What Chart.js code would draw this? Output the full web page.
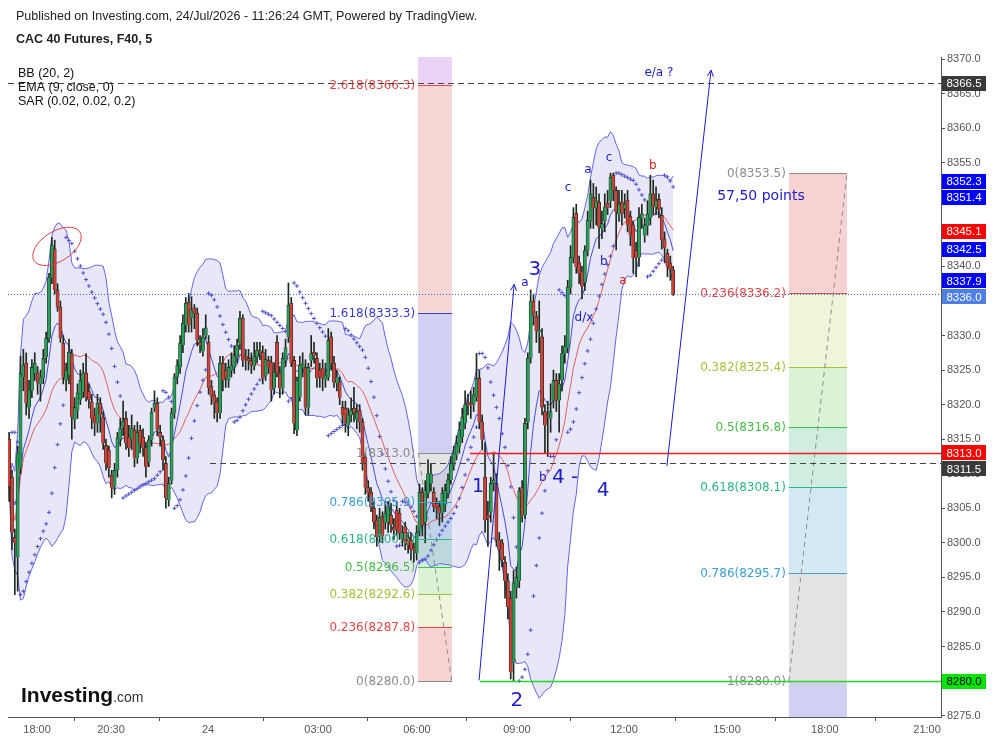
<!DOCTYPE html>
<html>
<head>
<meta charset="utf-8">
<title>CAC 40 Futures, F40, 5</title>
<script src="https://cdn.jsdelivr.net/npm/chart.js@4.4.1/dist/chart.umd.min.js"></script>
<style>
html, body { margin: 0; padding: 0; background: #ffffff; }
#myChart { display: block; }
</style>
</head>
<body>
<canvas id="myChart" width="993" height="741"></canvas>
<script>
// 5 min bars
let opens = [8315.0,8309.5,8300.8,8297.9,8311.0,8324.0,8326.0,8319.6,8322.0,8324.5,
8324.6,8323.0,8323.8,8326.9,8329.6,8338.4,8342.5,8336.6,8334.1,8328.9,
8323.5,8324.3,8327.4,8317.8,8319.2,8320.7,8321.8,8324.6,8321.9,8320.4,
8318.5,8317.3,8320.2,8318.2,8314.1,8313.4,8309.8,8308.1,8310.5,8315.0,
8316.8,8318.0,8315.3,8314.9,8316.3,8312.3,8316.3,8315.3,8313.8,8311.7,
8314.9,8319.6,8320.2,8316.0,8314.9,8311.5,8306.2,8309.0,8318.8,8324.0,
8325.4,8328.6,8331.5,8334.8,8332.5,8334.0,8333.2,8329.0,8327.7,8330.0,
8329.0,8322.6,8321.4,8320.4,8318.8,8326.0,8325.0,8323.5,8325.0,8325.4,
8326.9,8328.9,8332.5,8327.0,8326.7,8326.4,8325.6,8326.9,8327.8,8327.6,
8324.1,8326.4,8326.1,8322.4,8329.0,8324.6,8322.4,8326.4,8329.8,8334.7,
8326.4,8316.3,8321.1,8325.4,8325.4,8319.6,8326.4,8327.6,8326.7,8325.0,
8325.3,8323.6,8324.0,8329.8,8326.0,8323.1,8323.3,8319.6,8319.5,8317.0,
8318.5,8319.5,8317.8,8319.2,8317.5,8312.4,8308.0,8307.3,8305.0,8303.3,
8301.0,8303.8,8302.9,8303.0,8304.0,8302.3,8304.7,8304.3,8300.5,8302.3,
8300.8,8300.4,8299.3,8298.5,8301.8,8307.3,8303.0,8307.2,8308.6,8307.3,
8305.7,8305.2,8304.3,8305.5,8307.2,8309.1,8311.2,8312.7,8313.9,8315.3,
8317.3,8320.3,8320.2,8320.0,8321.1,8323.8,8317.5,8309.5,8304.0,8304.4,
8308.6,8308.6,8300.4,8300.0,8297.2,8294.5,8292.0,8282.6,8293.5,8294.5,
8308.0,8304.0,8317.5,8326.7,8335.0,8332.8,8330.5,8329.8,8319.0,8318.5,
8318.0,8320.6,8323.5,8320.6,8323.5,8327.4,8328.2,8337.0,8341.3,8347.7,
8340.5,8339.3,8337.7,8342.3,8346.5,8350.0,8348.5,8349.3,8345.5,8346.5,
8349.2,8349.5,8353.2,8351.0,8347.5,8349.3,8348.4,8349.6,8347.2,8346.0,
8342.3,8341.3,8347.0,8344.5,8345.8,8347.0,8350.5,8348.6,8349.7,8347.4,
8344.0,8341.9,8340.5,8339.5]
let highs = [8316.0,8310.5,8302.0,8314.0,8327.0,8328.0,8327.5,8323.5,8326.5,8327.5,
8325.5,8325.0,8328.0,8330.5,8339.0,8344.2,8343.8,8337.5,8335.0,8330.0,
8326.0,8329.5,8328.0,8321.0,8323.0,8325.0,8326.0,8327.4,8323.0,8321.5,
8319.5,8321.5,8321.0,8319.0,8315.0,8314.0,8310.5,8311.5,8316.0,8318.0,
8320.5,8319.0,8317.0,8318.5,8317.0,8317.5,8317.0,8316.5,8314.5,8315.5,
8319.5,8322.0,8321.0,8317.0,8315.5,8312.5,8309.5,8319.5,8324.5,8326.5,
8330.0,8333.0,8335.5,8336.1,8335.6,8334.5,8334.0,8330.0,8331.0,8333.0,
8330.0,8323.5,8322.0,8321.0,8327.0,8327.0,8326.0,8326.5,8327.5,8328.5,
8329.5,8333.5,8333.0,8328.0,8328.0,8327.5,8329.0,8329.0,8329.0,8328.5,
8328.0,8327.0,8327.0,8326.0,8330.0,8325.5,8327.5,8329.5,8337.6,8335.5,
8327.0,8324.0,8327.0,8327.5,8326.5,8326.0,8330.0,8329.0,8327.5,8326.0,
8326.5,8326.0,8331.0,8330.5,8327.0,8325.0,8324.0,8320.5,8320.5,8319.5,
8321.0,8322.5,8320.0,8320.0,8318.0,8313.0,8309.0,8308.0,8306.0,8304.0,
8305.0,8304.5,8306.0,8306.0,8305.7,8303.5,8306.0,8305.0,8302.5,8303.0,
8301.5,8301.5,8300.0,8302.5,8308.5,8308.0,8309.0,8312.0,8311.5,8308.0,
8306.5,8306.0,8308.0,8308.5,8310.0,8312.5,8314.0,8315.5,8317.5,8319.5,
8322.0,8321.5,8322.0,8322.5,8327.4,8325.0,8318.5,8314.5,8306.0,8309.5,
8313.0,8310.0,8301.5,8300.5,8298.0,8295.5,8293.0,8296.0,8296.5,8308.0,
8309.0,8318.0,8327.5,8336.6,8336.0,8333.5,8335.0,8331.0,8320.0,8320.5,
8323.0,8325.0,8324.5,8324.5,8328.5,8330.0,8338.0,8343.0,8348.5,8349.0,
8341.5,8340.0,8343.0,8348.0,8352.5,8352.0,8351.5,8350.5,8348.0,8350.5,
8351.0,8353.5,8353.5,8351.5,8351.0,8351.0,8350.5,8351.0,8348.0,8346.5,
8343.5,8348.5,8349.0,8347.0,8349.5,8353.2,8352.5,8351.5,8350.5,8348.5,
8345.0,8342.5,8341.5,8340.0]
let lows = [8306.0,8299.0,8292.5,8293.0,8310.0,8322.0,8318.5,8318.0,8321.0,8323.5,
8321.5,8320.5,8323.0,8326.0,8329.0,8337.5,8336.0,8333.5,8329.0,8323.0,
8322.0,8323.0,8315.0,8316.5,8318.0,8320.0,8321.0,8320.5,8319.5,8316.5,
8315.5,8316.0,8316.0,8313.5,8310.5,8309.5,8306.5,8307.0,8309.5,8314.0,
8315.5,8313.5,8312.5,8313.5,8311.0,8311.5,8313.0,8312.5,8309.5,8311.0,
8314.0,8319.0,8315.5,8314.0,8310.5,8305.0,8305.3,8308.5,8318.0,8323.0,
8324.5,8327.5,8330.5,8330.5,8330.5,8331.0,8328.5,8327.5,8327.0,8329.5,
8321.5,8320.0,8318.0,8317.5,8318.0,8322.0,8322.5,8322.5,8324.0,8324.5,
8326.0,8328.0,8325.5,8325.0,8325.0,8324.5,8325.0,8326.0,8326.5,8323.0,
8323.5,8324.5,8320.5,8321.5,8324.0,8321.0,8321.5,8325.5,8329.0,8325.5,
8315.8,8315.5,8320.5,8324.0,8318.5,8318.5,8325.5,8326.0,8322.5,8322.5,
8322.0,8322.5,8323.5,8325.0,8322.5,8322.0,8320.0,8317.0,8316.0,8315.5,
8317.5,8317.5,8316.5,8316.0,8310.5,8307.0,8306.0,8304.5,8302.0,8299.5,
8300.0,8300.0,8302.0,8301.5,8301.5,8300.5,8301.0,8300.5,8299.5,8299.0,
8298.5,8297.5,8297.2,8297.5,8301.0,8301.0,8300.0,8306.5,8307.5,8304.5,
8303.5,8302.5,8303.0,8304.5,8306.5,8308.5,8310.5,8312.0,8313.0,8314.5,
8316.5,8318.5,8318.0,8319.0,8320.5,8316.5,8313.5,8301.5,8299.5,8303.0,
8307.5,8299.5,8296.0,8296.5,8292.0,8289.0,8280.3,8280.0,8292.0,8293.5,
8303.0,8303.5,8316.5,8326.0,8331.5,8329.0,8327.5,8318.5,8313.0,8312.5,
8316.0,8319.5,8319.0,8316.0,8322.0,8326.0,8327.5,8336.0,8340.5,8339.0,
8337.5,8335.3,8336.5,8341.5,8345.5,8345.5,8346.0,8342.6,8344.0,8345.0,
8347.5,8348.5,8349.5,8342.4,8346.5,8346.0,8347.0,8345.0,8343.0,8339.0,
8338.5,8340.0,8345.5,8343.5,8344.5,8346.0,8347.5,8347.5,8347.0,8342.5,
8340.5,8338.5,8338.0,8335.8]
let closes = [8308.2,8301.5,8300.0,8313.0,8324.5,8325.7,8320.2,8322.1,8325.4,8326.0,
8323.1,8324.0,8326.7,8329.6,8338.4,8343.0,8336.6,8334.1,8329.6,8324.0,
8325.0,8327.6,8318.2,8319.6,8321.7,8323.5,8324.6,8321.1,8320.7,8318.0,
8317.3,8320.2,8318.5,8314.4,8311.5,8310.8,8307.9,8310.5,8315.2,8316.6,
8317.6,8314.4,8313.7,8316.6,8312.3,8316.0,8314.4,8313.7,8311.0,8314.9,
8318.9,8320.2,8316.3,8315.2,8312.0,8306.5,8308.6,8318.8,8324.0,8325.7,
8328.9,8331.8,8334.7,8331.5,8333.7,8333.2,8329.3,8328.6,8329.8,8331.1,
8322.4,8321.1,8320.2,8318.8,8326.0,8323.5,8324.0,8325.4,8325.7,8327.1,
8328.6,8332.5,8326.4,8326.6,8326.3,8325.7,8327.0,8327.9,8327.5,8323.8,
8326.5,8325.4,8322.1,8324.7,8324.6,8322.4,8326.7,8328.2,8334.4,8326.0,
8317.3,8323.5,8325.7,8325.9,8319.6,8325.4,8327.4,8327.1,8323.8,8324.0,
8323.8,8324.3,8329.3,8326.0,8323.2,8324.0,8321.0,8318.5,8317.3,8318.5,
8319.2,8318.9,8318.9,8317.5,8311.5,8308.0,8307.2,8305.2,8303.0,8300.8,
8303.7,8301.0,8304.3,8305.2,8302.6,8301.8,8302.0,8301.4,8301.5,8300.1,
8299.7,8299.0,8298.9,8301.5,8307.3,8302.6,8307.6,8310.0,8310.0,8305.2,
8305.0,8304.3,8307.2,8307.6,8309.1,8311.5,8313.0,8314.4,8316.3,8318.2,
8320.0,8320.0,8319.9,8321.4,8323.8,8317.5,8314.9,8303.3,8303.6,8308.6,
8309.1,8300.4,8299.0,8297.5,8294.5,8290.7,8281.3,8294.2,8295.0,8307.5,
8304.0,8317.3,8326.7,8335.0,8333.0,8330.6,8330.8,8319.6,8317.0,8318.2,
8319.0,8323.5,8320.6,8323.0,8327.4,8328.5,8337.0,8341.3,8347.1,8339.9,
8339.0,8337.1,8342.3,8346.7,8350.5,8348.4,8349.5,8345.7,8346.2,8348.6,
8348.5,8352.9,8351.0,8347.9,8349.0,8347.6,8349.0,8346.0,8344.5,8341.2,
8341.3,8347.1,8347.6,8346.0,8347.6,8350.5,8348.6,8349.5,8348.2,8343.8,
8342.7,8339.9,8339.5,8336.0]

// time axis (bar slots, session gaps squeeze the clock)
let tickLabels = ['18:00', '20:30', '24', '03:00', '06:00', '09:00', '12:00', '15:00', '18:00', '21:00']
let tickBars = [9.8, 35.75, 69.8, 108.4, 143.1, 178.2, 215.75, 251.9, 286.2, 322.1]

// fibonacci tools
let fibLeftRatios = [0, 0.236, 0.382, 0.5, 0.618, 0.786, 1, 1.618, 2.618]
let fibLeftPrices = [8280.0, 8287.8, 8292.6, 8296.5, 8300.5, 8305.9, 8313.0, 8333.3, 8366.3]
let fibRightRatios = [0, 0.236, 0.382, 0.5, 0.618, 0.786, 1]
let fibRightPrices = [8353.5, 8336.2, 8325.4, 8316.8, 8308.1, 8295.7, 8280.0]

// price tags on the right axis
let axisTagValues = [8366.5, 8352.3, 8351.4, 8345.1, 8342.5, 8337.9, 8336.0, 8313.0, 8311.5, 8280.0]
let axisTagColors = ['#3a3a3a', '#0000ff', '#0000ff', '#ff0000', '#0000ff', '#0000ff', '#4f7fe6', '#ff0000', '#3a3a3a', '#00e400']

let fibBand = {'0': '#f6d2d2', '0.236': '#eef5d8', '0.382': '#daf3d5', '0.5': '#cfeee0', '0.618': '#d2e8f4',
  '0.786': '#e3e3e3', '1': '#d0d0f3', '1.618': '#f6d5d5', '2.618': '#ead3f6'}
let fibLine = {'0': '#8c8c8c', '0.236': '#e04848', '0.382': '#a2c23c', '0.5': '#45bd45', '0.618': '#2db58a',
  '0.786': '#3b9fd6', '1': '#8c8c8c', '1.618': '#3a3ac8', '2.618': '#e04848'}

let fibTools = [
  {ratios: fibLeftRatios, prices: fibLeftPrices, from: 143.5, to: 155.4, beyond: 8399.3, trend: [143.6, 8313.0, 155.3, 8280.0]},
  {ratios: fibRightRatios, prices: fibRightPrices, from: 273.6, to: 294.0, beyond: 8230.0, trend: [273.6, 8280.0, 294.0, 8353.5]}
]

let hLines = [
  {p: 8366.5, from: -1, color: '#444444', dash: [6, 4]},
  {p: 8311.5, from: 70.5, color: '#444444', dash: [6, 4]},
  {p: 8313.0, from: 161.7, color: '#ee1c1c', dash: []},
  {p: 8280.0, from: 165.2, color: '#22d622', dash: []},
  {p: 8336.0, from: -1, color: '#3f5fcf', dash: [1, 2]}
]

let arrows = [[164.9, 8280.1, 177.2, 8337.4], [230.8, 8311.1, 246.3, 8368.4]]

let notes = [
  {t: 'e/a ?', x: 228.0, p: 8368.0, s: 12, c: '#1c1cc8'},
  {t: '57,50 points', x: 263.8, p: 8350.2, s: 14, c: '#1c1cc8'},
  {t: '3', x: 184.5, p: 8339.5, s: 20, c: '#1c1cc8'},
  {t: 'a', x: 181.0, p: 8337.6, s: 12, c: '#1c1cc8'},
  {t: '1', x: 164.5, p: 8308.1, s: 19, c: '#1c1cc8'},
  {t: '2', x: 178.2, p: 8277.2, s: 20, c: '#1c1cc8'},
  {t: 'b', x: 187.3, p: 8309.4, s: 12, c: '#1c1cc8'},
  {t: '4 -', x: 195.1, p: 8309.4, s: 20, c: '#1c1cc8'},
  {t: '4', x: 208.4, p: 8307.6, s: 20, c: '#1c1cc8'},
  {t: 'c', x: 196.1, p: 8351.3, s: 12, c: '#1c1cc8'},
  {t: 'a', x: 203.1, p: 8353.9, s: 12, c: '#1c1cc8'},
  {t: 'c', x: 210.5, p: 8355.7, s: 12, c: '#1c1cc8'},
  {t: 'b', x: 208.7, p: 8340.6, s: 12, c: '#1c1cc8'},
  {t: 'b', x: 225.9, p: 8354.6, s: 12, c: '#e01e1e'},
  {t: 'a', x: 215.4, p: 8337.9, s: 12, c: '#e01e1e'},
  {t: 'd/x', x: 201.7, p: 8332.5, s: 12, c: '#1c1cc8'}
]

// indicators from the bars: BB(20,2), EMA(9), SAR(0.02,0.02,0.2)
let bbUpper = [], bbLower = [], bbBasis = [], emaLine = [], sarDots = []
for (let i = 0; i < closes.length; i++) {
  let w = closes.slice(Math.max(0, i - 19), i + 1)
  let m = w.reduce((s, v) => s + v, 0) / w.length
  let sd = Math.sqrt(w.reduce((s, v) => s + (v - m) * (v - m), 0) / w.length)
  bbBasis.push({x: i, y: m})
  bbUpper.push({x: i, y: m + 2 * sd})
  bbLower.push({x: i, y: m - 2 * sd})
}
let e = closes[0]
closes.forEach((c, i) => {
  e = i ? c * 0.2 + e * 0.8 : c
  emaLine.push({x: i, y: e})
})
function parabolicSar(h, l, start, inc, max) {
  let up = false, af = start, ep = l[0], sar = h[0]
  for (let i = 1; i < h.length; i++) {
    sar = sar + af * (ep - sar)
    if (up) {
      sar = Math.min(sar, l[i - 1], l[Math.max(0, i - 2)])
      if (l[i] < sar) { up = false; sar = ep; ep = l[i]; af = start }
      else if (h[i] > ep) { ep = h[i]; af = Math.min(af + inc, max) }
    } else {
      sar = Math.max(sar, h[i - 1], h[Math.max(0, i - 2)])
      if (h[i] > sar) { up = true; sar = ep; ep = h[i]; af = start }
      else if (l[i] < ep) { ep = l[i]; af = Math.min(af + inc, max) }
    }
    sarDots.push({x: i, y: sar})
  }
}
parabolicSar(highs, lows, 0.02, 0.02, 0.2)

let wicks = closes.map((c, i) => ({x: i, y: [lows[i], highs[i]]}))
let bodies = closes.map((c, i) => ({x: i, y: [opens[i], c]}))
let bodyColors = closes.map((c, i) => c >= opens[i] ? '#26a25a' : '#d63f37')

function clipArea(c, a) {
  c.save()
  c.beginPath()
  c.rect(a.left, a.top, a.right - a.left, a.bottom - a.top)
  c.clip()
}

let drawings = {
  id: 'drawings',
  beforeDatasetsDraw(chart) {
    let c = chart.ctx, xs = chart.scales.x, ys = chart.scales.y
    clipArea(c, chart.chartArea)
    fibTools.forEach(f => {
      let x1 = xs.getPixelForValue(f.from), x2 = xs.getPixelForValue(f.to)
      f.prices.forEach((p, k) => {
        let q = k + 1 < f.prices.length ? f.prices[k + 1] : f.beyond
        let y1 = ys.getPixelForValue(p), y2 = ys.getPixelForValue(q)
        c.fillStyle = fibBand[String(f.ratios[k])]
        c.fillRect(x1, Math.min(y1, y2), x2 - x1, Math.abs(y2 - y1))
      })
    })
    c.restore()
  },
  afterDatasetsDraw(chart) {
    let c = chart.ctx, a = chart.chartArea, xs = chart.scales.x, ys = chart.scales.y
    clipArea(c, a)

    // fib levels, labels and their trend lines
    c.lineWidth = 1
    c.font = '12px "DejaVu Sans"'
    c.textAlign = 'right'
    c.textBaseline = 'middle'
    fibTools.forEach(f => {
      let x1 = xs.getPixelForValue(f.from), x2 = xs.getPixelForValue(f.to)
      f.prices.forEach((p, k) => {
        let col = fibLine[String(f.ratios[k])]
        let y = Math.round(ys.getPixelForValue(p)) + 0.5
        c.strokeStyle = col
        c.beginPath(); c.moveTo(x1, y); c.lineTo(x2, y); c.stroke()
        c.fillStyle = col
        c.fillText(f.ratios[k] + '(' + p.toFixed(1) + ')', x1 - 3, y)
      })
      c.strokeStyle = '#8c8c8c'
      c.setLineDash([5, 4])
      c.beginPath()
      c.moveTo(xs.getPixelForValue(f.trend[0]), ys.getPixelForValue(f.trend[1]))
      c.lineTo(xs.getPixelForValue(f.trend[2]), ys.getPixelForValue(f.trend[3]))
      c.stroke()
      c.setLineDash([])
    })

    // horizontal lines on top
    hLines.forEach(h => {
      let y = Math.round(ys.getPixelForValue(h.p)) + 0.5
      c.strokeStyle = h.color
      c.lineWidth = h.dash.length ? 1 : 1.3
      c.setLineDash(h.dash)
      c.beginPath()
      c.moveTo(Math.max(a.left, xs.getPixelForValue(h.from)), y)
      c.lineTo(a.right, y)
      c.stroke()
    })
    c.setLineDash([])
    c.lineWidth = 1

    // wave arrows
    c.strokeStyle = '#1c1cd0'
    arrows.forEach(r => {
      let x1 = xs.getPixelForValue(r[0]), y1 = ys.getPixelForValue(r[1])
      let x2 = xs.getPixelForValue(r[2]), y2 = ys.getPixelForValue(r[3])
      let ang = Math.atan2(y2 - y1, x2 - x1)
      c.beginPath()
      c.moveTo(x1, y1); c.lineTo(x2, y2)
      c.moveTo(x2 - 7 * Math.cos(ang - 0.45), y2 - 7 * Math.sin(ang - 0.45))
      c.lineTo(x2, y2)
      c.lineTo(x2 - 7 * Math.cos(ang + 0.45), y2 - 7 * Math.sin(ang + 0.45))
      c.stroke()
    })

    // circled top
    c.strokeStyle = '#e04040'
    c.beginPath()
    c.ellipse(xs.getPixelForValue(16.8), ys.getPixelForValue(8342.9), 27, 15, -0.56, 0, Math.PI * 2)
    c.stroke()

    c.textAlign = 'center'
    notes.forEach(n => {
      c.font = n.s + 'px "DejaVu Sans"'
      c.fillStyle = n.c
      c.fillText(n.t, xs.getPixelForValue(n.x), ys.getPixelForValue(n.p))
    })

    // study legend
    c.font = '12.5px "Liberation Sans"'
    c.fillStyle = '#111'
    c.textAlign = 'left'
    c.fillText('BB (20, 2)', 18, 74)
    c.fillText('EMA (9, close, 0)', 18, 88)
    c.fillText('SAR (0.02, 0.02, 0.2)', 18, 102)

    // logo
    c.textBaseline = 'alphabetic'
    c.font = 'bold 21px "Liberation Sans"'
    c.fillStyle = '#111'
    c.fillText('Investing', 21, 702)
    let w = c.measureText('Investing').width
    c.font = '14px "Liberation Sans"'
    c.fillStyle = '#333'
    c.fillText('.com', 21 + w, 702)
    c.restore()
  },
  afterDraw(chart) {
    let c = chart.ctx, ys = chart.scales.y
    c.save()
    c.textBaseline = 'middle'
    c.textAlign = 'left'
    c.fillStyle = '#222'
    c.font = '12.5px "Liberation Sans"'
    c.fillText('Published on Investing.com, 24/Jul/2026 - 11:26:24 GMT, Powered by TradingView.', 16, 17)
    c.font = 'bold 12.5px "Liberation Sans"'
    c.fillText('CAC 40 Futures, F40, 5', 16, 40)

    let tags = axisTagValues.map((v, i) => ({v: v, y: ys.getPixelForValue(v), bg: axisTagColors[i]}))
    tags.sort((p, q) => p.y - q.y)
    for (let i = 1; i < tags.length; i++) {
      if (tags[i].y < tags[i - 1].y + 16) tags[i].y = tags[i - 1].y + 16
    }
    c.font = '11.5px "Liberation Sans"'
    c.textAlign = 'center'
    tags.forEach(t => {
      c.fillStyle = t.bg
      c.fillRect(942, Math.round(t.y - 7.5), 44, 15)
      c.fillStyle = t.bg == '#00e400' ? '#000' : '#fff'
      c.fillText(t.v.toFixed(1), 964, t.y + 0.5)
    })
    c.restore()
  }
}

let ctx = document.getElementById('myChart')
Chart.defaults.font.family = '"Liberation Sans", Arial, sans-serif'

let meuGrafico = new Chart(ctx, {
  type: 'bar',
  data: {
    datasets: [
      {type: 'line', data: bbUpper, borderColor: '#6464e8', borderWidth: 1, pointRadius: 0,
        fill: '+1', backgroundColor: 'rgba(70, 70, 190, 0.13)', order: 9},
      {type: 'line', data: bbLower, borderColor: '#6464e8', borderWidth: 1, pointRadius: 0, fill: false, order: 8},
      {type: 'line', data: bbBasis, borderColor: '#e35d5d', borderWidth: 1, pointRadius: 0, fill: false, order: 7},
      {type: 'line', data: emaLine, borderColor: '#4b4be0', borderWidth: 1, pointRadius: 0, fill: false, order: 6},
      {data: wicks, backgroundColor: '#1c2a1e', barThickness: 1, grouped: false, order: 3},
      {data: bodies, backgroundColor: bodyColors, borderColor: '#1f2a20', borderWidth: 0.7,
        barThickness: 3.2, minBarLength: 1, grouped: false, order: 2},
      {type: 'scatter', data: sarDots, pointStyle: 'cross', pointRadius: 2, borderWidth: 1,
        borderColor: '#5151c9', backgroundColor: '#5151c9', order: 1}
    ]
  },
  options: {
    responsive: false,
    animation: false,
    devicePixelRatio: 1,
    events: [],
    layout: {autoPadding: false, padding: {top: 57, left: 8, right: 0, bottom: 0}},
    plugins: {legend: {display: false}, tooltip: {enabled: false}},
    scales: {
      x: {
        type: 'linear', min: -0.39, max: 326.98, offset: false,
        grid: {drawOnChartArea: false, tickLength: 4, color: '#555'},
        border: {color: '#555'},
        afterBuildTicks: s => { s.ticks = tickBars.map(v => ({value: v})) },
        afterFit: s => { s.height = 24 },
        ticks: {autoSkip: false, maxRotation: 0, color: '#555', font: {size: 11},
          padding: 2, callback: (v, i) => tickLabels[i]}
      },
      y: {
        position: 'right', min: 8274.8, max: 8370.3,
        grid: {drawOnChartArea: false, tickLength: 4, color: '#555'},
        border: {color: '#555'},
        afterFit: s => { s.width = 52 },
        ticks: {stepSize: 5, includeBounds: false, color: '#555', font: {size: 11}, padding: 2,
          callback: v => v.toFixed(1)}
      }
    }
  },
  plugins: [drawings]
})
</script>
</body>
</html>
